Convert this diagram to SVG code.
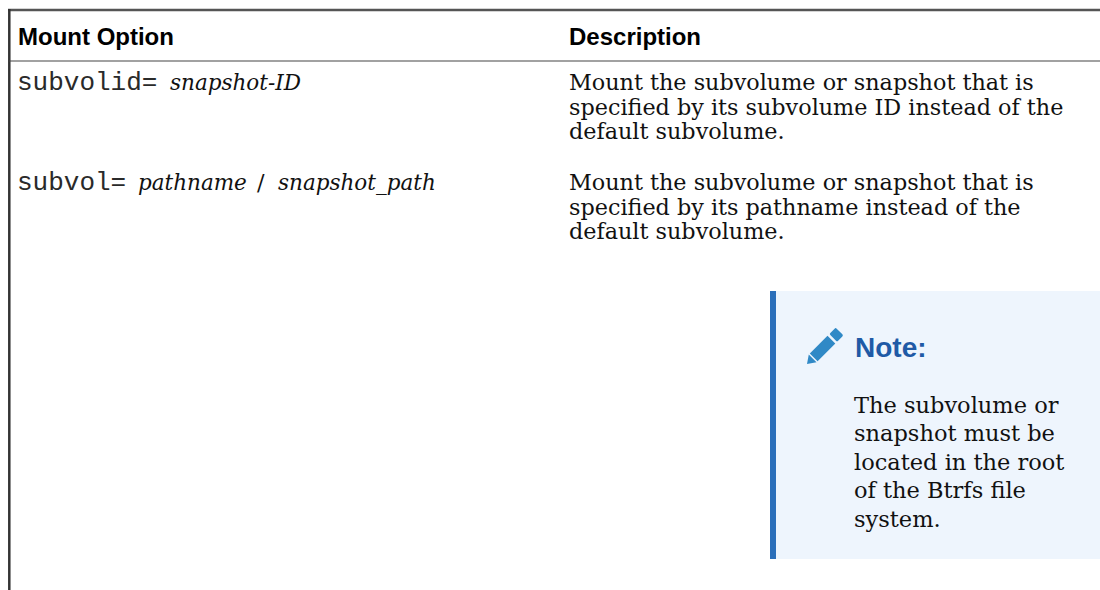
<svg xmlns="http://www.w3.org/2000/svg" width="1100" height="590" viewBox="0 0 1100 590">
  <style>
    .hdr { font-family: "Liberation Sans", Arial, sans-serif; font-weight: bold; font-size: 24px; fill: #000; }
    .mono { font-family: "Liberation Mono", "Courier New", monospace; font-size: 26px; fill: #2a2a2a; }
    .ital { font-family: "DejaVu Serif", serif; font-style: italic; font-size: 21.5px; fill: #111; }
    .body { font-family: "DejaVu Serif", serif; font-size: 22.3px; fill: #111; }
    .nbody { font-family: "DejaVu Serif", serif; font-size: 22.5px; fill: #111; }
    .ntitle { font-family: "Liberation Sans", Arial, sans-serif; font-weight: bold; font-size: 28px; fill: #1f5aa6; }
  </style>
  <rect width="1100" height="590" fill="#ffffff"/>
  <g id="connectors">
    <line x1="8" y1="10" x2="1100" y2="10" stroke="#555" stroke-width="2.5"/>
    <line x1="9.3" y1="9" x2="9.3" y2="590" stroke="#333" stroke-width="2.5"/>
    <line x1="9" y1="61" x2="1100" y2="61" stroke="#444" stroke-width="1.2"/>
  </g>
  <g id="header">
    <text class="hdr" x="18" y="45">Mount Option</text>
    <text class="hdr" x="569" y="45">Description</text>
  </g>
  <g id="row1">
    <text class="mono" x="17" y="90">subvolid=</text>
    <text class="ital" x="170" y="90">snapshot-ID</text>
    <text class="body" x="569" y="90">Mount the subvolume or snapshot that is</text>
    <text class="body" x="569" y="114.5">specified by its subvolume ID instead of the</text>
    <text class="body" x="569" y="139">default subvolume.</text>
  </g>
  <g id="row2">
    <text class="mono" x="17" y="190">subvol=</text>
    <text class="ital" x="138" y="190">pathname</text>
    <text class="body" x="257" y="190">/</text>
    <text class="ital" x="278" y="190">snapshot_path</text>
    <text class="body" x="569" y="190">Mount the subvolume or snapshot that is</text>
    <text class="body" x="569" y="214.5">specified by its pathname instead of the</text>
    <text class="body" x="569" y="239">default subvolume.</text>
  </g>
  <g id="note">
    <rect x="770" y="291" width="330" height="268" fill="#eef5fd"/>
    <rect x="770" y="291" width="6" height="268" fill="#2b6fba"/>
    <g transform="translate(807,364) rotate(-45)" fill="#3089c6">
      <polygon points="0,0 8,-5.5 8,5.5"/>
      <rect x="9.5" y="-5.5" width="25" height="11"/>
      <rect x="37" y="-5.5" width="9" height="11" rx="1.5"/>
    </g>
    <text class="ntitle" x="855" y="357">Note:</text>
    <text class="nbody" x="854" y="412.5">The subvolume or</text>
    <text class="nbody" x="854" y="441">snapshot must be</text>
    <text class="nbody" x="854" y="469.5">located in the root</text>
    <text class="nbody" x="854" y="498">of the Btrfs file</text>
    <text class="nbody" x="854" y="526.5">system.</text>
  </g>
</svg>
